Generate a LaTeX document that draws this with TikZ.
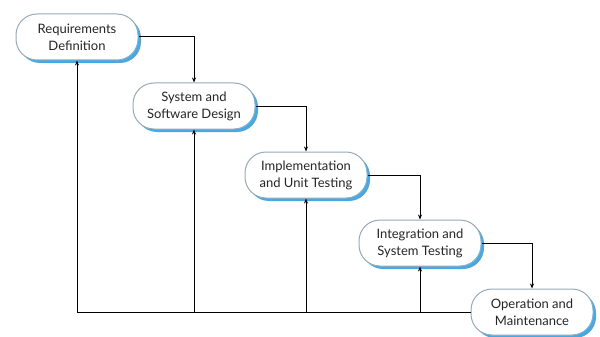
\documentclass[tikz,border=0pt]{standalone}
\usepackage{fontspec}
\setmainfont{Lato}
\usepackage{tikz}
\usetikzlibrary{shadows}
\usetikzlibrary{arrows.meta}
\definecolor{phaseline}{RGB}{150,170,185}
\definecolor{phaseshadow}{RGB}{50,160,225}

\begin{document}
\begin{tikzpicture}[x=1pt, y=-1pt, line width=1pt, >={Stealth[length=5pt,width=4pt]},
        phase/.style={draw=phaseline, fill=white, rounded corners=21pt,
            minimum width=122pt, minimum height=46pt, align=center,
            font=\fontsize{13}{17}\selectfont, text=black!85,
            drop shadow={shadow xshift=3pt, shadow yshift=-3pt, fill=phaseshadow, opacity=0.9}}]
        \useasboundingbox (0,0) rectangle (600,337);
        \node[phase] (req) at (77,37){Requirements\\Definition};
        \node[phase] (sys) at (194,106){System and\\Software Design};
        \node[phase] (imp) at (306,175){Implementation\\and Unit Testing};
        \node[phase] (int) at (420,243){Integration and\\System Testing};
        \node[phase] (ops) at (532,312){Operation and\\Maintenance};
        \draw[->](req.east) -| (sys.north);
        \draw[->](sys.east) -| (imp.north);
        \draw[->](imp.east) -| (int.north);
        \draw[->](int.east) -| (ops.north);
        \draw[->](ops.west) -| (req.south);
        \draw[->](sys.south |- ops.west) -- (sys.south);
        \draw[->](imp.south |- ops.west) -- (imp.south);
        \draw[->](int.south |- ops.west) -- (int.south);
    \end{tikzpicture}
\end{document}
